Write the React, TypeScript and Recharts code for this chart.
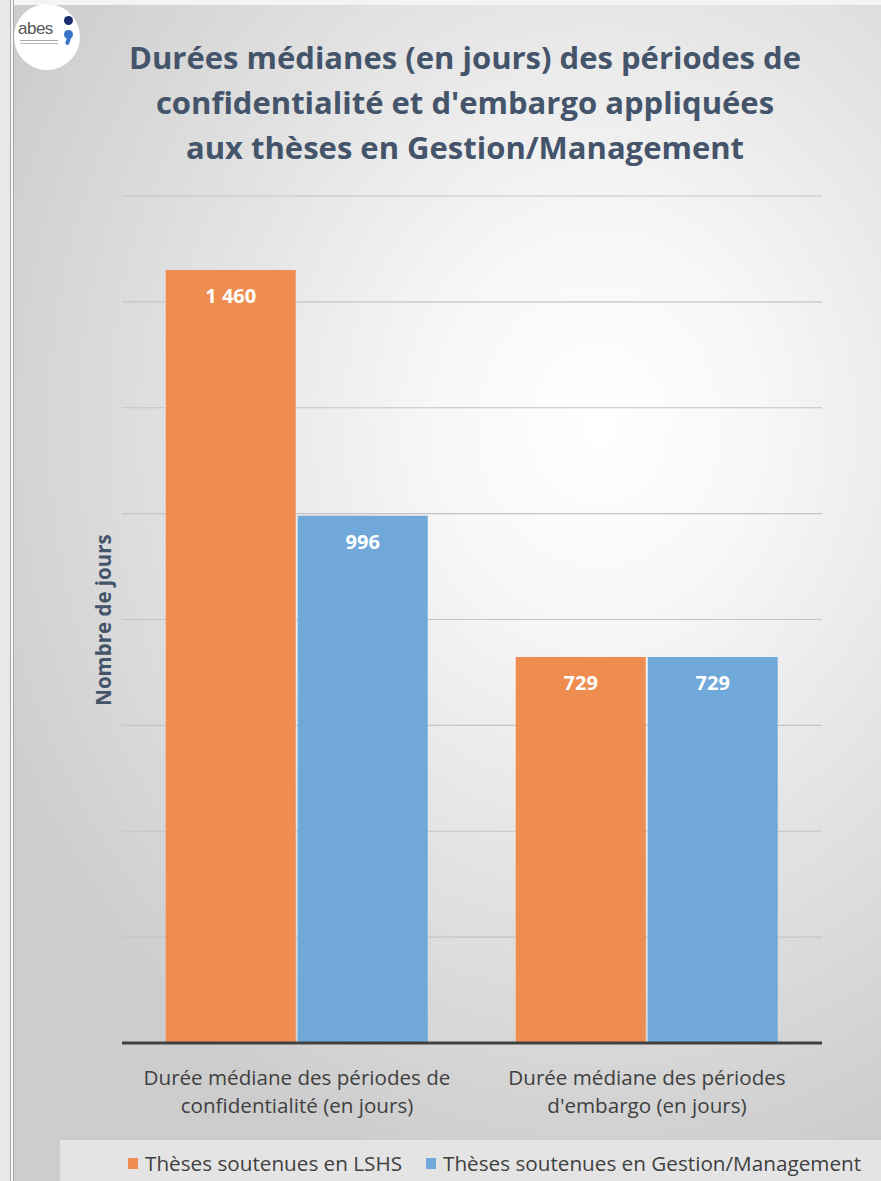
import { Bar, BarChart, CartesianGrid, LabelList, XAxis, YAxis } from "recharts"

const categories = ["confidentialite", "embargo"]
const categoryLines = [
  ["Durée médiane des périodes de", "confidentialité (en jours)"],
  ["Durée médiane des périodes", "d'embargo (en jours)"],
]
const lshsValues = [1460, 729]
const gestionValues = [996, 729]
const seriesNames = ["Thèses soutenues en LSHS", "Thèses soutenues en Gestion/Management"]
const yTicks = [0, 200, 400, 600, 800, 1000, 1200, 1400, 1600]
const titleLines = [
  "Durées médianes (en jours) des périodes de",
  "confidentialité et d'embargo appliquées",
  "aux thèses en Gestion/Management",
]

const data = categories.map((c, i) => ({ name: c, idx: i, lshs: lshsValues[i], gestion: gestionValues[i] }))

const ORANGE = "#ee8d4f"
const BLUE = "#70a8da"
const TITLE = "#44546a"
const FONT = "'Open Sans', Lato, sans-serif"

const fmt = (v: number) => String(v).replace(/\B(?=(\d{3})+(?!\d))/g, " ")

function CategoryTick(props: any) {
  const { x, y, index } = props
  const lines = categoryLines[index] || []
  return (
    <g>
      {lines.map((l, i) => (
        <text key={i} x={x} y={y + 42 + i * 28} textAnchor="middle" fill="#404040" fontSize={20.6} fontFamily={FONT}>
          {l}
        </text>
      ))}
    </g>
  )
}

export default function App() {
  return (
    <div
      style={{
        position: "absolute",
        left: 0,
        top: 0,
        width: 881,
        height: 1181,
        overflow: "hidden",
        background: "radial-gradient(ellipse 75% 65% at 68% 36%, #ffffff 0%, #f7f7f7 25%, #e3e3e3 60%, #cdcdcd 100%)",
        fontFamily: FONT,
      }}
    >
      {/* top strip and left double border */}
      <div style={{ position: "absolute", left: 0, top: 0, width: 881, height: 5, background: "#f4f4f4" }} />
      <div style={{ position: "absolute", left: 0, top: 0, width: 10, height: 1181, background: "#e8e8e8" }} />
      <div style={{ position: "absolute", left: 10, top: 0, width: 1, height: 1181, background: "#a8a8a8" }} />
      <div style={{ position: "absolute", left: 11, top: 0, width: 2, height: 1181, background: "#f8f8f8" }} />
      <div style={{ position: "absolute", left: 13, top: 0, width: 1, height: 1181, background: "#a8a8a8" }} />

      {/* logo */}
      <div
        style={{
          position: "absolute",
          left: 14,
          top: 4,
          width: 66,
          height: 66,
          borderRadius: 33,
          background: "#ffffff",
          overflow: "hidden",
        }}
      >
        <span style={{ position: "absolute", left: 4, top: 15, fontSize: 17, color: "#555", letterSpacing: -0.5, fontFamily: "'Liberation Sans Narrow', 'Liberation Sans', sans-serif" }}>abes</span>
        <div style={{ position: "absolute", left: 6, top: 36, width: 38, height: 1, background: "#aaa" }} />
        <div style={{ position: "absolute", left: 6, top: 39, width: 38, height: 1, background: "#bbb" }} />
        <span style={{ position: "absolute", left: 50, top: 12, width: 9, height: 9, borderRadius: 5, background: "#1c2f6e" }} />
        <span style={{ position: "absolute", left: 50, top: 26, width: 9, height: 9, borderRadius: 5, background: "#3a74c8" }} />
        <span style={{ position: "absolute", left: 52, top: 33, width: 4, height: 8, borderRadius: 2, background: "#3a74c8", transform: "rotate(20deg)" }} />
      </div>

      {/* title */}
      {titleLines.map((t, i) => (
        <div
          key={i}
          style={{
            position: "absolute",
            left: 65,
            width: 800,
            top: 36 + i * 45,
            textAlign: "center",
            fontSize: 31,
            fontWeight: 700,
            color: TITLE,
            lineHeight: "42px",
            whiteSpace: "nowrap",
          }}
        >
          {t}
        </div>
      ))}

      {/* y axis title */}
      <div
        style={{
          position: "absolute",
          left: 103,
          top: 620,
          transform: "translate(-50%, -50%) rotate(-90deg)",
          fontSize: 20.5,
          fontWeight: 700,
          color: TITLE,
          whiteSpace: "nowrap",
        }}
      >
        Nombre de jours
      </div>

      <div style={{ position: "absolute", left: 0, top: 0 }}>
        <BarChart
          width={881}
          height={1181}
          data={data}
          margin={{ top: 196, right: 59, left: 122, bottom: 38 }}
          barCategoryGap="12.5%"
          barGap={2}
        >
          <CartesianGrid vertical={false} stroke="#c4c4c4" strokeWidth={1.2} />
          <YAxis hide domain={[0, 1600]} ticks={yTicks} />
          <XAxis
            dataKey="name"
            height={100}
            tickLine={false}
            tickSize={0}
            tickMargin={0}
            axisLine={{ stroke: "#404040", strokeWidth: 3 }}
            tick={<CategoryTick />}
            interval={0}
          />
          <Bar dataKey="lshs" name={seriesNames[0]} fill={ORANGE} isAnimationActive={false}>
            <LabelList dataKey="lshs" position="insideTop" offset={19} fill="#ffffff" fontSize={20} fontWeight={700} fontFamily={FONT} formatter={(v: any) => fmt(v)} />
          </Bar>
          <Bar dataKey="gestion" name={seriesNames[1]} fill={BLUE} isAnimationActive={false}>
            <LabelList dataKey="gestion" position="insideTop" offset={19} fill="#ffffff" fontSize={20} fontWeight={700} fontFamily={FONT} formatter={(v: any) => fmt(v)} />
          </Bar>
        </BarChart>
      </div>

      {/* legend */}
      <div
        style={{
          position: "absolute",
          left: 60,
          top: 1140,
          width: 821,
          height: 41,
          background: "#e4e4e4",
        }}
      >
        {seriesNames.map((n, i) => (
          <div
            key={n}
            style={{
              position: "absolute",
              left: i === 0 ? 68 : 366,
              top: 10,
              display: "flex",
              alignItems: "center",
              fontSize: 20.7,
              color: "#404040",
              whiteSpace: "nowrap",
              lineHeight: "26px",
            }}
          >
            <span style={{ display: "inline-block", width: 10, height: 11, background: i === 0 ? ORANGE : BLUE, marginRight: 7 }} />
            {n}
          </div>
        ))}
      </div>
    </div>
  )
}
